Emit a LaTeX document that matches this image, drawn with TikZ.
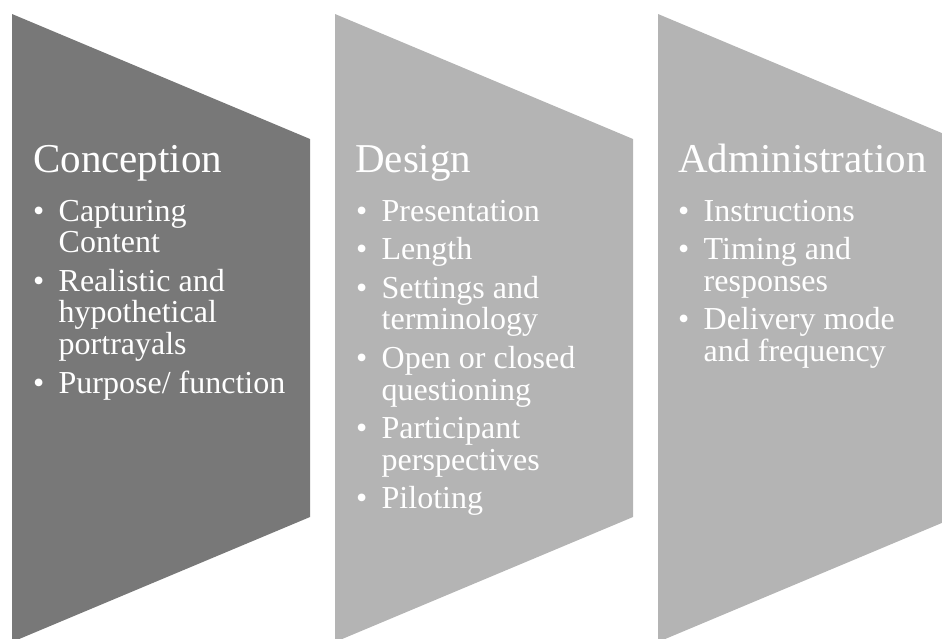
\documentclass[tikz,border=0pt]{standalone}
\usepackage{fontspec}
\setmainfont{Liberation Serif}
\definecolor{stagedark}{HTML}{787878}
\definecolor{stagelight}{HTML}{B4B4B4}

% one bullet item with a hanging indent
\newcommand\stageitem[1]{\par\hangindent=25.5pt\hangafter=1\noindent
  \hbox to 25.5pt{\textbullet\hfil}#1\par}
% bullet list set as a top-aligned box whose baseline is its first line
\newcommand\stagelist[1]{\parbox[t]{270pt}{\fontsize{32pt}{31.6pt}\selectfont
  \parindent=0pt\parskip=7pt\parfillskip=0pt plus 1fil #1}}

\begin{document}
\begin{tikzpicture}[x=1pt,y=-1pt,
  stagetitle/.style={anchor=base west,inner sep=0pt,text=white,
    font=\fontsize{41pt}{44pt}\selectfont},
  stagebody/.style={anchor=base west,inner sep=0pt,text=white}]
\useasboundingbox (0,0) rectangle (942,638);

% the three chevron panels
\begin{scope}
  \clip (0,0) rectangle (942,638);
  \fill[stagedark]  (12,14)  -- (310,139) -- (310,517) -- (12,642)  -- cycle;
  \fill[stagelight] (335,14) -- (633,139) -- (633,517) -- (335,642) -- cycle;
  \fill[stagelight] (658,14) -- (956,139) -- (956,517) -- (658,642) -- cycle;
\end{scope}

% stage titles
\node[stagetitle] (conception) at (33,172) {Conception};
\node[stagetitle] (design) at (355,172) {Design};
\node[stagetitle] (administration) at (678,172) {Administration};

% stage contents
\node[stagebody] (conceptionlist) at (33,221) {\stagelist{%
  \stageitem{Capturing\newline Content}
  \stageitem{Realistic and\newline hypothetical\newline portrayals}
  \stageitem{Purpose/ function}}};
\node[stagebody] (designlist) at (356,221) {\stagelist{%
  \stageitem{Presentation}
  \stageitem{Length}
  \stageitem{Settings and\newline terminology}
  \stageitem{Open or closed\newline questioning}
  \stageitem{Participant\newline perspectives}
  \stageitem{Piloting}}};
\node[stagebody] (administrationlist) at (678,221) {\stagelist{%
  \stageitem{Instructions}
  \stageitem{Timing and\newline responses}
  \stageitem{Delivery mode\newline and frequency}}};
\end{tikzpicture}
\end{document}
